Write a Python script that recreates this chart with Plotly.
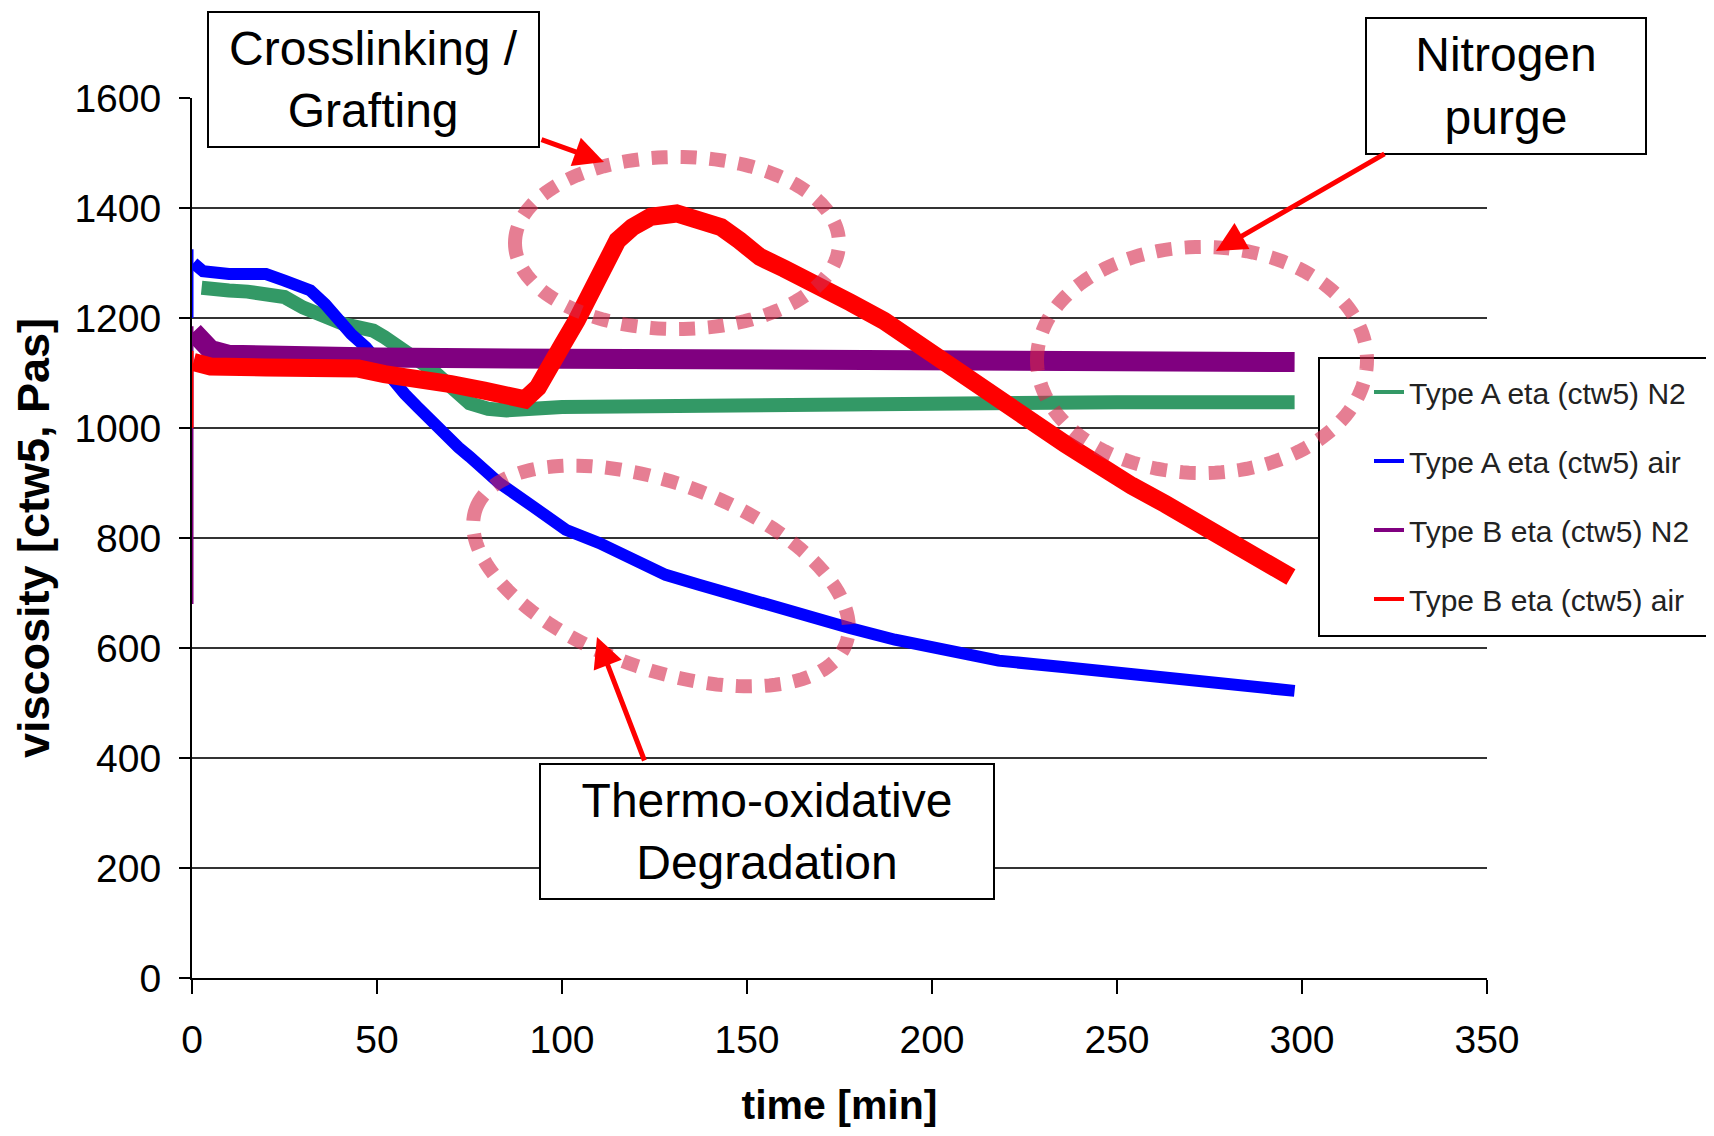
import math
import plotly.graph_objects as go

# ---------------- data ----------------
time_A_N2 = [2.6, 5, 10, 15, 20, 25, 30, 36, 41, 45, 49, 52, 56, 60, 65, 70, 75, 80, 85,
             100, 150, 200, 250, 298]
visc_A_N2 = [1255, 1252, 1250, 1248, 1246, 1238, 1219, 1201, 1189, 1183, 1177, 1165, 1148,
             1130, 1105, 1075, 1045, 1035, 1032, 1038, 1043, 1046, 1047, 1047]

time_A_air = [0.4, 3, 10, 20, 25, 32, 36, 39.5, 43, 47, 50.5, 54, 57.5, 61, 65, 68.5, 72, 75,
              83, 92, 101, 110, 119, 128, 137, 146, 155, 164, 173, 178, 190, 200, 210, 218,
              236, 254, 272, 290, 298]
visc_A_air = [1300, 1285, 1280, 1280, 1268, 1250, 1225, 1195, 1171, 1147, 1116, 1086, 1062,
              1038, 1010, 989, 965, 948, 900, 858, 815, 791, 764, 733, 715, 697, 682, 664,
              645, 636, 615, 600, 588, 577, 565, 553, 541, 526, 522]

time_B_N2 = [0.4, 2, 5, 10, 20, 50, 100, 150, 200, 250, 298]
visc_B_N2 = [1175, 1158, 1142, 1133, 1130, 1128, 1126, 1123, 1122, 1120, 1120]

time_B_air = [0.4, 5, 20, 45, 52, 61, 70, 79, 85, 90, 93.5, 97, 100, 104, 108.5, 111, 115,
              119, 124, 131, 137, 143, 148, 153.5, 160, 168, 174, 178, 187, 196, 205, 214,
              218, 223, 227, 232, 236, 241, 245, 250, 254, 263, 272, 281, 290, 297]
visc_B_air = [1120, 1112, 1110, 1108, 1098, 1092, 1080, 1068, 1055, 1052, 1074, 1122, 1150,
              1196, 1256, 1305, 1341, 1365, 1384, 1390, 1378, 1365, 1341, 1311, 1290, 1265,
              1248, 1228, 1195, 1153, 1110, 1068, 1046, 1025, 1007, 983, 971, 950, 932, 913,
              895, 862, 825, 795, 753, 729]

# start-up readings at t = 0 (thin vertical jumps on the axis)
startup_time = [0, 0]
startup_A_air = [1200, 1325]
startup_B_N2 = [680, 1185]
startup_B_air = [1000, 1140]

series_names = ["Type A eta (ctw5) N2", "Type A eta (ctw5) air",
                "Type B eta (ctw5) N2", "Type B eta (ctw5) air"]
series_colors = ["#339966", "#0000FF", "#800080", "#FF0000"]

x_ticks = [0, 50, 100, 150, 200, 250, 300, 350]
y_ticks = [0, 200, 400, 600, 800, 1000, 1200, 1400, 1600]

# ---------------- layout geometry ----------------
OFF = 8                       # default page margin around the figure
FIG_W, FIG_H = 1714 - 2 * OFF, 1136 - 2 * OFF
PAGE_L, PAGE_R, PAGE_T, PAGE_B = 192, 1487, 98, 978   # plot area on the page
M_L = PAGE_L - OFF
M_T = PAGE_T - OFF
M_B = FIG_H - (PAGE_B - OFF)
M_R = FIG_W - (PAGE_R - OFF)
X_RANGE = [0, 350]
Y_RANGE = [0, 1600]
PW = FIG_W - M_L - M_R
PH = FIG_H - M_T - M_B
FONT = "Liberation Sans, Arial, sans-serif"


def px2x(px):
    return (px - PAGE_L) / PW * (X_RANGE[1] - X_RANGE[0]) + X_RANGE[0]


def px2y(py):
    return (PAGE_B - py) / PH * (Y_RANGE[1] - Y_RANGE[0]) + Y_RANGE[0]


def px2px(px):
    return (px - PAGE_L) / PW


def px2py(py):
    return (PAGE_B - py) / PH


def ellipse_path(cx, cy, a, b, ang_deg, n=160):
    th = math.radians(ang_deg)
    pts = []
    for i in range(n):
        t = 2 * math.pi * i / n + math.pi
        ex, ey = a * math.cos(t), b * math.sin(t)
        xr = cx + ex * math.cos(th) - ey * math.sin(th)
        yr = cy + ex * math.sin(th) + ey * math.cos(th)
        pts.append((px2x(xr), px2y(yr)))
    return "M " + " L ".join(f"{x:.4f},{y:.4f}" for x, y in pts) + " Z"


fig = go.Figure()

data_series = [(time_A_N2, visc_A_N2, 14), (time_A_air, visc_A_air, 12),
               (time_B_N2, visc_B_N2, 20), (time_B_air, visc_B_air, 18)]
startups = [None, startup_A_air, startup_B_N2, startup_B_air]

for (t, v, w), su, name, col in zip(data_series, startups, series_names, series_colors):
    if su is not None:
        fig.add_trace(go.Scatter(x=startup_time, y=su, mode="lines",
                                 line=dict(color=col, width=3), showlegend=False,
                                 hoverinfo="skip"))
    fig.add_trace(go.Scatter(x=t, y=v, mode="lines", name=name,
                             line=dict(color=col, width=w), showlegend=False))

# legend entries (thin lines like the original legend keys)
for i, (name, col) in enumerate(zip(series_names, series_colors)):
    fig.add_trace(go.Scatter(x=[None], y=[None], mode="lines", name=name,
                             line=dict(color=col, width=4), legendgroup=f"g{i}",
                             showlegend=True))

shapes = []
# legend frame (covers the gridlines behind it)
shapes.append(dict(type="rect", xref="paper", yref="paper",
                   x0=px2px(1319), x1=px2px(1760), y0=px2py(636), y1=px2py(358),
                   fillcolor="white", line=dict(color="black", width=2), layer="above"))

dot_line = dict(color="rgba(214,40,75,0.6)", width=14, dash="16px,13px")
for (cx, cy, a, b, ang) in [(677, 243, 162, 86, 0),
                            (1202, 360, 165, 113, 0),
                            (661, 576, 197, 93, 20)]:
    shapes.append(dict(type="path", xref="x", yref="y", path=ellipse_path(cx, cy, a, b, ang),
                       line=dot_line, layer="above"))

annotations = []
box_font = dict(family=FONT, size=48, color="black")
for (cx, cy, w, h, txt) in [(373.5, 79.5, 333, 137, "Crosslinking /<br>Grafting"),
                            (1506, 86, 282, 138, "Nitrogen<br>purge"),
                            (767, 831.5, 456, 137, "Thermo-oxidative<br>Degradation")]:
    annotations.append(dict(x=px2px(cx), y=px2py(cy), xref="paper", yref="paper", text=txt,
                            xanchor="center", yanchor="middle",
                            showarrow=False, font=box_font, bgcolor="white",
                            bordercolor="black", borderwidth=2, borderpad=0,
                            width=w - 4, height=h - 4, align="center", valign="middle"))

for (hx, hy, tx, ty) in [(604, 162, 540, 139), (1216, 251, 1386, 153), (597, 637, 645, 762)]:
    annotations.append(dict(x=px2x(hx), y=px2y(hy), xref="x", yref="y", text="",
                            showarrow=True, ax=tx - hx, ay=ty - hy, arrowhead=2,
                            arrowsize=1.2, arrowwidth=5, arrowcolor="#FF0000", standoff=0))

fig.update_layout(
    width=FIG_W, height=FIG_H,
    margin=dict(l=M_L, r=M_R, t=M_T, b=M_B, autoexpand=False),
    paper_bgcolor="white", plot_bgcolor="white",
    font=dict(family=FONT, color="black"),
    showlegend=True,
    legend=dict(x=px2px(1369), y=px2py(366), xanchor="left", yanchor="top",
                bgcolor="rgba(0,0,0,0)", borderwidth=0,
                font=dict(family=FONT, size=30, color="#222222"),
                tracegroupgap=27, itemwidth=30),
    shapes=shapes,
    annotations=annotations,
    xaxis=dict(range=X_RANGE, tickvals=x_ticks, ticks="outside", ticklen=14, tickwidth=2,
               tickcolor="black", showline=True, linecolor="black", linewidth=2,
               showgrid=False, zeroline=False, layer="below traces",
               tickfont=dict(family=FONT, size=39, color="black"), ticklabelstandoff=12,
               title=dict(text="<b>time [min]</b>", font=dict(family=FONT, size=41),
                          standoff=49)),
    yaxis=dict(range=Y_RANGE, tickvals=y_ticks, ticks="outside", ticklen=11, tickwidth=2,
               tickcolor="black", showline=True, linecolor="black", linewidth=2,
               showgrid=True, gridcolor="#333333", gridwidth=2, zeroline=False,
               layer="below traces",
               tickfont=dict(family=FONT, size=39, color="black"), ticklabelstandoff=10,
               title=dict(text="<b>viscosity [ctw5, Pas]</b>", font=dict(family=FONT, size=45),
                          standoff=18)),
)

fig.write_html("out.html")
